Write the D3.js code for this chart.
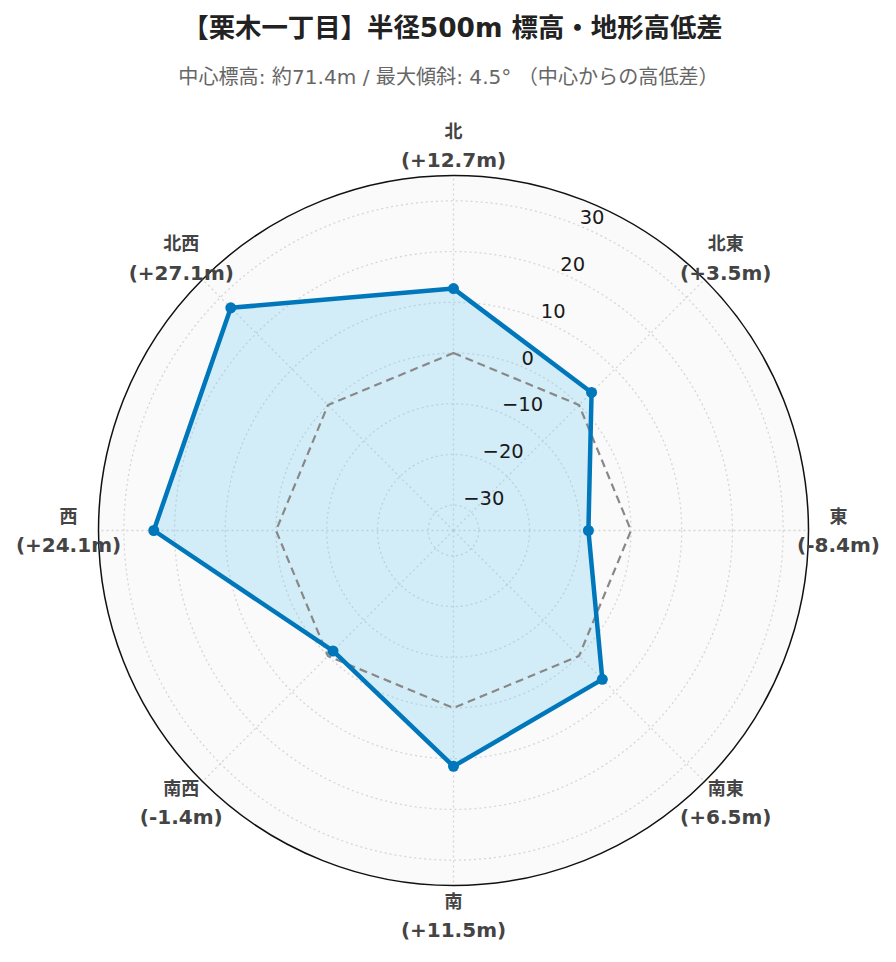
<!DOCTYPE html>
<html><head><meta charset="utf-8">
<script src="https://cdn.jsdelivr.net/npm/d3@7"></script>
<style>body{margin:0;background:#fff}svg{display:block}</style>
</head><body>
<svg id="c" width="896" height="962"></svg>
<script>
const directions = ["北","北東","東","南東","南","南西","西","北西"];
const diffs = [12.7, 3.5, -8.4, 6.5, 11.5, -1.4, 24.1, 27.1];
const baseline = [0, 0, 0, 0, 0, 0, 0, 0];
const radialTicks = [-30, -20, -10, 0, 10, 20, 30];
const radialRange = [-35, 35];
const titleText = "【栗木一丁目】半径500m 標高・地形高低差";
const subtitleText = "中心標高: 約71.4m / 最大傾斜: 4.5° （中心からの高低差）";

const FONT = "'DejaVu Sans','Noto Sans CJK JP',sans-serif";
const svg = d3.select("#c");
const cx = 453.5, cy = 530.5, R = 355;

svg.append("text").attr("x", 452.5).attr("y", 27).attr("text-anchor","middle")
  .attr("dominant-baseline","central").attr("font-family",FONT).attr("font-weight","bold")
  .attr("font-size",26.4).attr("fill","#222").text(titleText);
svg.append("text").attr("x", 448.5).attr("y", 77).attr("text-anchor","middle")
  .attr("dominant-baseline","central").attr("font-family",FONT)
  .attr("font-size",20.1).attr("fill","#666").text(subtitleText);

const r = d3.scaleLinear().domain(radialRange).range([0, R]);
const angle = d3.scalePoint().domain(directions).range([0, 2*Math.PI*(directions.length-1)/directions.length]);
const g = svg.append("g").attr("transform", `translate(${cx},${cy})`);

g.append("circle").attr("r", R).attr("fill", "#fafafa");
g.selectAll("circle.grid").data(radialTicks).join("circle").attr("class","grid")
  .attr("r", d => r(d)).attr("fill","none").attr("stroke","#d6d6d6")
  .attr("stroke-width",1.3).attr("stroke-dasharray","2,3");
g.selectAll("line.spoke").data(directions).join("line").attr("class","spoke")
  .attr("x1",0).attr("y1",0)
  .attr("x2", d => R*Math.sin(angle(d))).attr("y2", d => -R*Math.cos(angle(d)))
  .attr("stroke","#d6d6d6").attr("stroke-width",1.3).attr("stroke-dasharray","2,3");

const pts = (vals) => directions.map((d,i) => [angle(d), r(vals[i])]);
const radial = d3.lineRadial().curve(d3.curveLinearClosed);

g.append("path").attr("d", radial(pts(diffs))).attr("fill","rgba(100,200,245,0.26)").attr("stroke","none");
g.append("path").attr("d", radial(pts(baseline))).attr("fill","none")
  .attr("stroke","#888").attr("stroke-width",2.2).attr("stroke-dasharray","8,5")
  .attr("stroke-linejoin","round");
g.append("path").attr("d", radial(pts(diffs))).attr("fill","none")
  .attr("stroke","#0077bb").attr("stroke-width",4.5).attr("stroke-linejoin","round");
g.selectAll("circle.pt").data(directions).join("circle").attr("class","pt")
  .attr("cx",(d,i)=> r(diffs[i])*Math.sin(angle(d)))
  .attr("cy",(d,i)=> -r(diffs[i])*Math.cos(angle(d)))
  .attr("r",5.5).attr("fill","#0077bb");

g.append("circle").attr("r", R).attr("fill","none").attr("stroke","#111").attr("stroke-width",1.5);

const tickAng = Math.PI/8;
g.selectAll("text.tick").data(radialTicks).join("text").attr("class","tick")
  .attr("x", d => r(d)*Math.sin(tickAng))
  .attr("y", d => -r(d)*Math.cos(tickAng) - 2)
  .attr("font-family",FONT).attr("font-size",19.5).attr("fill","#1a1a1a")
  .text(d => d3.format("")(d).replace("-", "\u2212"));

const fmt = v => (v >= 0 ? "+" : "") + v.toFixed(1) + "m";
const lab = g.selectAll("g.lab").data(directions).join("g").attr("class","lab")
  .attr("transform", d => `translate(${385*Math.sin(angle(d))},${-385*Math.cos(angle(d))})`);
lab.append("text").attr("y",-14.5).attr("text-anchor","middle").attr("dominant-baseline","central")
  .attr("font-family",FONT).attr("font-weight","bold").attr("font-size",18).attr("fill","#444")
  .text(d => d);
lab.append("text").attr("y",14.5).attr("text-anchor","middle").attr("dominant-baseline","central")
  .attr("font-family",FONT).attr("font-weight","bold").attr("font-size",20).attr("fill","#444")
  .text((d,i) => "(" + fmt(diffs[i]) + ")");
</script>
</body></html>
